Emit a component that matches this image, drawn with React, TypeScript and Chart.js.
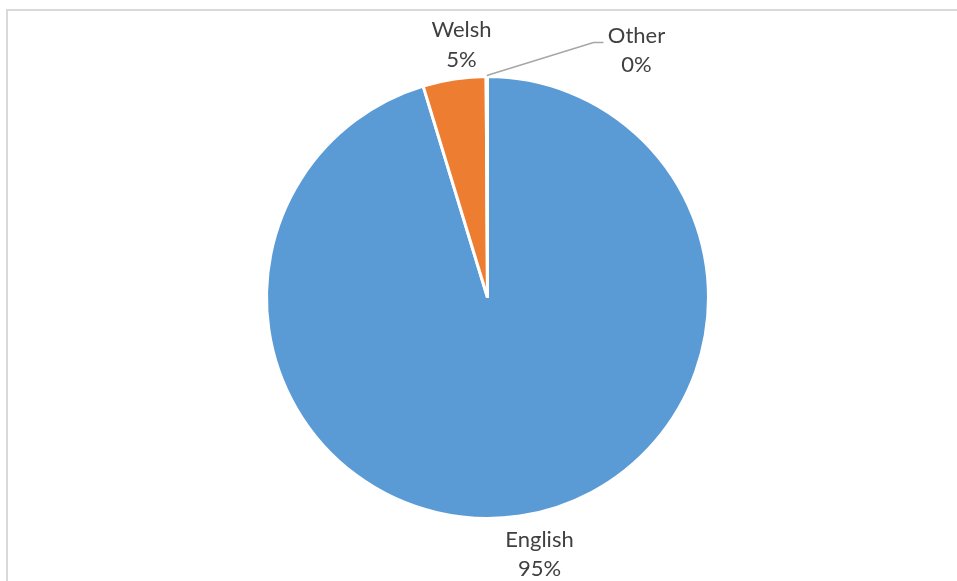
import React, { useEffect, useRef } from "react";
import { Chart, registerables } from "chart.js";

Chart.register(...registerables);

const categories = ["English", "Welsh", "Other"];
const values = [95.3, 4.6, 0.1];
const colors = ["#5B9BD5", "#ED7D31", "#A5A5A5"];

const FONT = "22px Lato";
const TEXT_COLOR = "#404040";

const labelPlugin = {
  id: "excelLabels",
  afterDraw(chart: any) {
    const ctx = chart.ctx;
    const meta = chart.getDatasetMeta(0);
    const total = values.reduce((a, b) => a + b, 0);
    ctx.save();
    // frame
    ctx.strokeStyle = "#D9D9D9";
    ctx.lineWidth = 2;
    ctx.beginPath();
    ctx.moveTo(7, 581);
    ctx.lineTo(7, 10);
    ctx.lineTo(957, 10);
    ctx.stroke();

    ctx.font = FONT;
    ctx.fillStyle = TEXT_COLOR;
    ctx.textAlign = "center";
    ctx.textBaseline = "alphabetic";
    // label anchor offsets relative to pie centre: [dx, baseline1 dy, baseline2 dy]
    const offs = [
      [52, 249, 278],
      [-26, -261, -231],
      [149, -255, -226],
    ];
    meta.data.forEach((arc: any, i: number) => {
      const { x, y, startAngle, endAngle, outerRadius } = arc.getProps(
        ["x", "y", "startAngle", "endAngle", "outerRadius"],
        true
      );
      const pct = Math.round((values[i] / total) * 100) + "%";
      const o = offs[i];
      ctx.fillText(categories[i], x + o[0], y + o[1]);
      ctx.fillText(pct, x + o[0], y + o[2]);
      if (i === 2) {
        const mid = (startAngle + endAngle) / 2;
        const sx = x + Math.cos(mid) * (outerRadius + 1);
        const sy = y + Math.sin(mid) * (outerRadius + 1);
        ctx.strokeStyle = "#A6A6A6";
        ctx.lineWidth = 1.5;
        ctx.beginPath();
        ctx.moveTo(sx, sy);
        ctx.lineTo(x + 106, y - 255);
        ctx.lineTo(x + 116, y - 255);
        ctx.stroke();
      }
    });
    ctx.restore();
  },
};

export default function App() {
  const ref = useRef<HTMLCanvasElement>(null);
  useEffect(() => {
    if (!ref.current) return;
    const chart = new Chart(ref.current, {
      type: "pie",
      data: {
        labels: categories,
        datasets: [
          {
            data: values,
            backgroundColor: colors,
            borderColor: "#FFFFFF",
            borderWidth: 3,
          },
        ],
      },
      options: {
        responsive: false,
        animation: false,
        devicePixelRatio: 1,
        layout: { padding: { left: 265, right: 247, top: 75, bottom: 61 } },
        plugins: {
          legend: { display: false },
          tooltip: { enabled: false },
        },
      },
      plugins: [labelPlugin],
    });
    return () => chart.destroy();
  }, []);
  return (
    <div style={{ position: "fixed", left: 0, top: 0, width: 957, height: 581, background: "#fff" }}>
      <canvas ref={ref} width={957} height={581} />
    </div>
  );
}
